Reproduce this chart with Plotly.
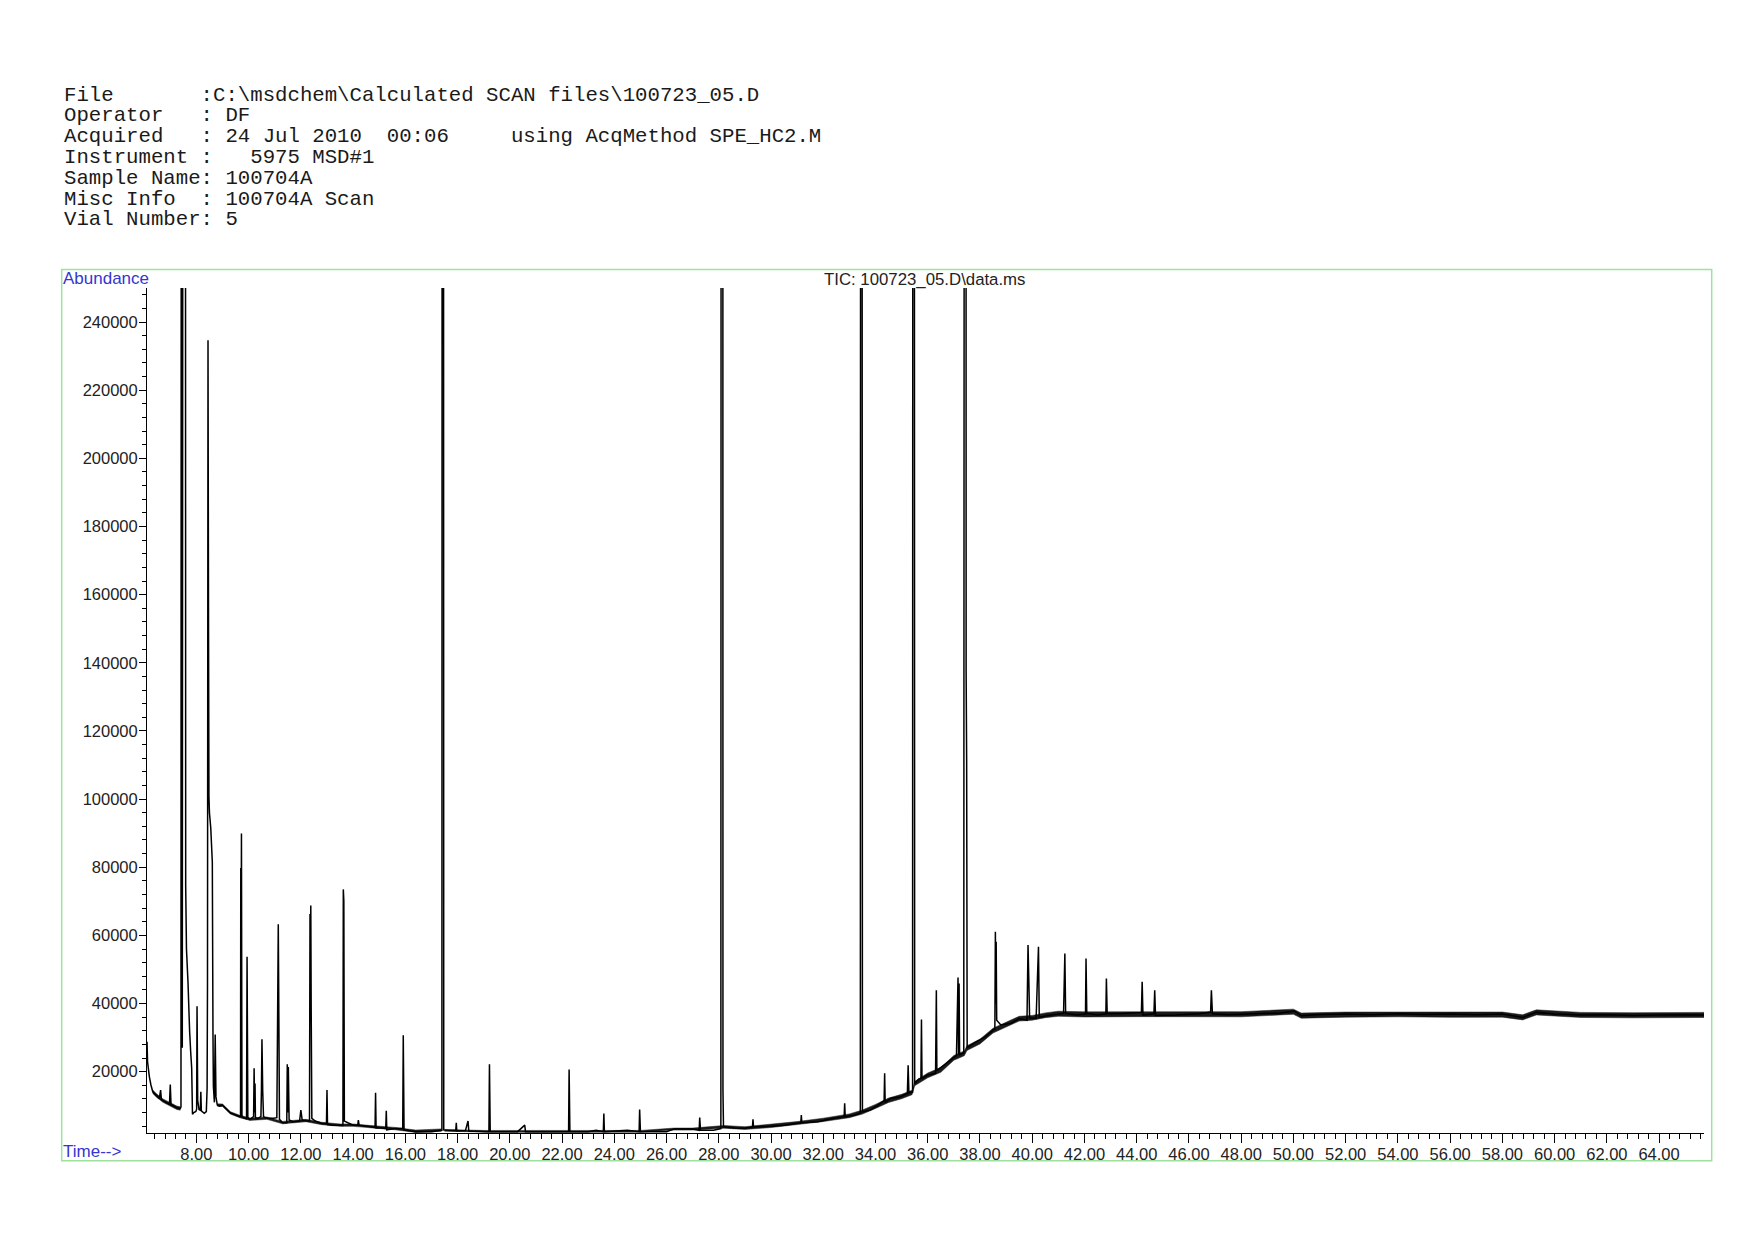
import plotly.graph_objects as go

# ---------------- figure geometry (pixels in the 1754x1240 page) ----------------
PAGE_OFF = 8                      # default body margin of the html page
W, H = 1754 - PAGE_OFF, 1240 - PAGE_OFF
PX_L, PX_R = 147.3, 1704.3        # plot area left / right (page pixels)
PY_T, PY_B = 288.0, 1133.3        # plot area top / bottom (page pixels)

# ---------------- texts ----------------
header_lines = [
    "File       :C:\\msdchem\\Calculated SCAN files\\100723_05.D",
    "Operator   : DF",
    "Acquired   : 24 Jul 2010  00:06     using AcqMethod SPE_HC2.M",
    "Instrument :   5975 MSD#1",
    "Sample Name: 100704A",
    "Misc Info  : 100704A Scan",
    "Vial Number: 5",
]
title_text = "TIC: 100723_05.D\\data.ms"
y_label = "Abundance"
x_label = "Time-->"

# ---------------- axes ----------------
x_range = [6.109, 65.72]
y_range = [2000, 250000]
x_major_step = 2.0
x_minor_step = 0.4
y_major_step = 20000
y_minor_step = 4000

# ---------------- TIC trace (time [min], abundance) ----------------
trace_early = [
    (6.11, 28800), (6.13, 22900), (6.20, 18500), (6.26, 16100), (6.33, 14100),
    (6.46, 13100), (6.58, 12100), (6.63, 14600), (6.66, 11800), (6.72, 11500),
    (6.85, 10900), (6.97, 10500), (7.00, 16200), (7.03, 10300), (7.12, 10000),
    (7.25, 9400), (7.38, 9200), (7.41, 9600), (7.43, 600000), (7.46, 27000),
    (7.51, 700000), (7.57, 700000), (7.59, 74600), (7.62, 56000), (7.68, 46000),
    (7.74, 32000), (7.78, 26000), (7.82, 21000), (7.85, 7500), (7.90, 8000),
    (7.98, 8300), (8.01, 9000), (8.025, 39200), (8.05, 11600), (8.10, 8900),
    (8.15, 8700), (8.17, 14100), (8.19, 8500), (8.30, 7800), (8.38, 8300),
    (8.41, 15000), (8.425, 45000), (8.445, 234700), (8.465, 148800), (8.48, 100800),
    (8.50, 96000), (8.55, 91500), (8.61, 81500), (8.635, 30900), (8.65, 15800),
    (8.69, 11000), (8.72, 30900), (8.75, 12600), (8.80, 10200), (8.90, 9900),
    (9.00, 10200), (9.10, 9400), (9.30, 7900), (9.50, 7300), (9.66, 6800),
    (9.69, 7000), (9.70, 79800), (9.71, 45000), (9.725, 89900), (9.745, 7000),
    (9.80, 6500), (9.92, 6200), (9.94, 53700), (9.955, 30700), (9.97, 6500),
    (10.05, 6000), (10.19, 6800), (10.21, 21000), (10.23, 8000), (10.245, 16500),
    (10.26, 6500), (10.35, 6300), (10.47, 6800), (10.49, 14500), (10.51, 29500),
    (10.54, 14100), (10.57, 6800), (10.70, 6300), (10.95, 6300), (11.08, 6500),
    (11.10, 26500), (11.135, 63300), (11.15, 44900), (11.18, 6000), (11.30, 5000),
    (11.46, 5000), (11.48, 22200), (11.50, 8000), (11.52, 21400), (11.55, 5800),
    (11.70, 5300), (11.95, 5500), (12.00, 8700), (12.05, 5800), (12.20, 5600),
    (12.33, 5500), (12.35, 66300), (12.365, 50000), (12.38, 68800), (12.395, 38500),
    (12.42, 6300), (12.55, 5500), (12.80, 4800), (12.98, 4800), (13.00, 14600),
    (13.02, 4500), (13.20, 4300), (13.50, 4300), (13.61, 4200), (13.625, 73500),
    (13.645, 70000), (13.665, 5500), (13.80, 5000), (14.00, 4300), (14.18, 4300),
    (14.20, 5800), (14.23, 4300), (14.60, 3900), (14.84, 3600), (14.86, 13800),
    (14.88, 3500), (15.10, 3500), (15.25, 3300), (15.27, 8500), (15.29, 2900),
    (15.60, 3300), (15.90, 3300), (15.92, 30700), (15.95, 2900), (16.40, 2400),
    (17.00, 2400), (17.38, 2800),
]

trace_middle = [
    (17.40, 2800), (17.42, 800000), (17.45, 800000), (17.47, 2900), (17.60, 2800),
    (17.93, 2700), (17.95, 5000), (17.97, 2600), (18.30, 2700), (18.40, 5500),
    (18.43, 2600), (18.80, 2500), (19.20, 2400), (19.22, 22200), (19.25, 2400),
    (19.70, 2400), (20.30, 2400), (20.57, 4300), (20.60, 2400), (21.50, 2400),
    (22.25, 2400), (22.27, 20650), (22.30, 2400), (23.00, 2400), (23.30, 2800),
    (23.58, 2400), (23.60, 7750), (23.62, 2400), (24.50, 2800), (24.95, 2400),
    (24.97, 8900), (25.00, 2400), (26.00, 2400), (26.30, 3200), (27.00, 3200),
    (27.25, 2800), (27.27, 6560), (27.30, 2800), (27.80, 2800), (28.08, 3300),
    (28.10, 700000), (28.15, 700000), (28.16, 14600), (28.18, 3800), (28.60, 3500),
    (29.00, 3400), (29.29, 3800), (29.31, 6000), (29.33, 3800), (30.00, 4000),
    (30.50, 4300), (31.14, 5000), (31.16, 7250), (31.18, 5000), (31.80, 5300),
    (32.40, 6300), (32.80, 6800), (32.82, 10700), (32.84, 6800), (33.20, 7300),
    (33.42, 7800),
]

trace_rise = [
    (33.44, 700000), (33.47, 700000), (33.50, 8200), (33.80, 8700), (34.10, 10200),
    (34.33, 11500), (34.35, 19500), (34.37, 11000), (34.60, 12200), (34.95, 12600),
    (35.22, 13600), (35.25, 21900), (35.28, 13800), (35.42, 14000), (35.44, 800000),
    (35.47, 800000), (35.50, 16500), (35.65, 17800), (35.74, 18000), (35.76, 35300),
    (35.78, 18000), (36.00, 19000), (36.30, 19500), (36.33, 43900), (36.35, 20400),
    (36.70, 22400), (37.10, 24700), (37.16, 47650), (37.18, 25000), (37.20, 45900),
    (37.22, 25000), (37.38, 25500), (37.43, 900000), (37.455, 900000), (37.47, 137600),
    (37.49, 111300), (37.51, 27000), (37.80, 28500), (38.20, 30200), (38.50, 32200),
    (38.57, 32500), (38.59, 61050), (38.61, 40000), (38.62, 58100), (38.64, 35100),
    (38.80, 33700), (39.20, 34200), (39.50, 35600), (39.80, 35100), (39.84, 57150),
    (39.87, 46900), (39.90, 35800), (40.15, 35600), (40.24, 56650), (40.27, 36000),
    (40.60, 36500),
]

trace_late = [
    (41.20, 37100), (41.25, 54700), (41.28, 37100), (41.70, 36600), (42.04, 36900),
    (42.06, 53200), (42.09, 37100), (42.50, 36600), (42.82, 37000), (42.84, 47350),
    (42.87, 37000), (43.50, 37100), (44.18, 37400), (44.21, 46400), (44.24, 36600),
    (44.66, 37000), (44.69, 43900), (44.72, 36500), (45.50, 36600), (46.40, 37000),
    (46.83, 37500), (46.86, 43900), (46.90, 37000), (47.50, 36700), (48.50, 37000),
    (49.50, 37200), (50.05, 37800), (50.30, 36400), (51.00, 36800), (52.00, 36900),
    (53.00, 36700), (54.00, 37000), (55.00, 36800), (56.00, 36900), (57.00, 36700),
    (58.00, 36900), (58.78, 35900), (59.30, 37400), (60.00, 36900), (61.00, 36600),
    (62.00, 36700), (63.00, 36500), (64.00, 36600), (65.00, 36700), (65.72, 36600),
]

# ---------------- baseline noise band (time, lower edge, upper edge) ----------------
noise_band_start = [
    (6.33, 13600, 14600), (6.46, 12600, 13600), (6.72, 11000, 12000), (6.97, 10000, 11000),
    (7.25, 8900, 9900), (7.38, 8700, 9700),
]
noise_band_early = [
    (8.80, 9850, 10550), (9.00, 9800, 10500), (9.30, 7550, 8250), (9.66, 6500, 7200),
    (10.05, 5700, 6400), (10.70, 6000, 6700), (11.30, 4700, 5400), (11.70, 5000, 5700),
    (12.20, 5300, 6000), (12.80, 4450, 5150), (13.50, 3950, 4650), (14.00, 3950, 4650),
    (14.60, 3550, 4250), (15.10, 3150, 3850), (15.60, 2950, 3650), (16.40, 2150, 2850),
    (17.38, 2500, 3200),
]
noise_band_late = [
    (17.50, 2550, 3050), (19.00, 2250, 2750), (21.00, 2200, 2700), (23.00, 2250, 2750),
    (25.00, 2250, 2750), (26.30, 2850, 3450), (27.00, 2850, 3450), (28.20, 3400, 4200),
    (29.00, 3050, 3850), (30.00, 3600, 4500), (31.00, 4450, 5350), (32.00, 5350, 6350),
    (33.00, 6500, 7600), (33.50, 7550, 8750), (34.00, 9200, 10400), (34.50, 10950, 12250),
    (35.00, 12050, 13350), (35.40, 13250, 14550), (35.50, 15850, 17150), (36.00, 18200, 19600),
    (36.50, 19800, 21200), (37.00, 23350, 24750), (37.40, 24700, 26100), (37.50, 26200, 27600),
    (38.00, 28150, 29550), (38.50, 31350, 32750), (39.00, 33100, 34500), (39.50, 34850, 36250),
    (40.00, 35100, 36500), (40.50, 35850, 37250), (41.00, 36250, 37750), (42.00, 36050, 37550),
    (44.00, 36150, 37650), (46.00, 36050, 37550), (48.00, 36100, 37600), (50.00, 36850, 38350),
    (50.30, 35700, 37200), (52.00, 36000, 37500), (54.00, 36100, 37600), (56.00, 35950, 37450),
    (58.00, 36000, 37500), (58.78, 35200, 36700), (59.30, 36650, 38150), (61.00, 35900, 37400),
    (63.00, 35800, 37300), (65.72, 35900, 37400),
]

points = trace_early + trace_middle + trace_rise + trace_late
rt = [p[0] for p in points]
abund = [p[1] for p in points]


def xp(px):
    return (px - PX_L) / (PX_R - PX_L)


def yp(py):
    return (PY_B - py) / (PY_B - PY_T)


SANS = "Liberation Sans, Arial, sans-serif"
MONO = "Liberation Mono, Courier New, monospace"

fig = go.Figure()

for band in (noise_band_start, noise_band_early, noise_band_late):
    bx = [b[0] for b in band] + [b[0] for b in reversed(band)]
    by = [b[1] for b in band] + [b[2] for b in reversed(band)]
    fig.add_trace(go.Scatter(
        x=bx, y=by, mode="lines", fill="toself", fillcolor="#1a1a1a",
        line=dict(color="#1a1a1a", width=0.5), hoverinfo="skip", showlegend=False,
    ))

fig.add_trace(go.Scatter(
    x=rt, y=abund, mode="lines",
    line=dict(color="black", width=1.5, simplify=False),
    hoverinfo="skip", showlegend=False,
))

annotations = []
line_y0, line_dy = 95.0, 20.8
for i, txt in enumerate(header_lines):
    annotations.append(dict(
        text=txt.replace(" ", "&nbsp;"), xref="paper", yref="paper",
        x=xp(62.0), y=yp(line_y0 + i * line_dy),
        xanchor="left", yanchor="middle", showarrow=False,
        font=dict(family=MONO, size=20.7, color="#1a1a1a"),
    ))
annotations.append(dict(
    text=y_label, xref="paper", yref="paper", x=xp(61.5), y=yp(278.5),
    xanchor="left", yanchor="middle", showarrow=False,
    font=dict(family=SANS, size=17, color="#3535d0"),
))
annotations.append(dict(
    text=x_label, xref="paper", yref="paper", x=xp(61.5), y=yp(1152),
    xanchor="left", yanchor="middle", showarrow=False,
    font=dict(family=SANS, size=17, color="#3535d0"),
))
annotations.append(dict(
    text=title_text, xref="paper", yref="paper", x=xp(925), y=yp(279.5),
    xanchor="center", yanchor="middle", showarrow=False,
    font=dict(family=SANS, size=16.8, color="#222222"),
))

fig.update_layout(
    width=W, height=H,
    margin=dict(l=PX_L - PAGE_OFF, r=(W + PAGE_OFF) - PX_R,
                t=PY_T - PAGE_OFF, b=(H + PAGE_OFF) - PY_B, pad=0),
    paper_bgcolor="white", plot_bgcolor="white",
    annotations=annotations,
    shapes=[dict(
        type="rect", xref="paper", yref="paper",
        x0=xp(62), x1=xp(1712), y0=yp(1161), y1=yp(269.5),
        line=dict(color="#9ee29e", width=1.5), layer="below",
    )],
)

fig.update_xaxes(
    range=x_range, showgrid=False, zeroline=False,
    showline=True, linecolor="black", linewidth=1,
    ticks="outside", ticklen=9, tickcolor="black", tickwidth=1,
    tick0=0, dtick=x_major_step, tickformat=".2f", ticklabelstandoff=-3,
    tickfont=dict(family=SANS, size=16.5, color="#222222"),
    minor=dict(ticks="outside", ticklen=5, tickcolor="black", tickwidth=1,
               tick0=0, dtick=x_minor_step, showgrid=False),
)
fig.update_yaxes(
    range=y_range, showgrid=False, zeroline=False,
    showline=True, linecolor="black", linewidth=1,
    ticks="outside", ticklen=7, tickcolor="black", tickwidth=1,
    tick0=0, dtick=y_major_step, tickformat="d", ticklabelstandoff=-2,
    tickfont=dict(family=SANS, size=16.5, color="#222222"),
    minor=dict(ticks="outside", ticklen=4, tickcolor="black", tickwidth=1,
               tick0=0, dtick=y_minor_step, showgrid=False),
)

fig.write_html("out.html")
